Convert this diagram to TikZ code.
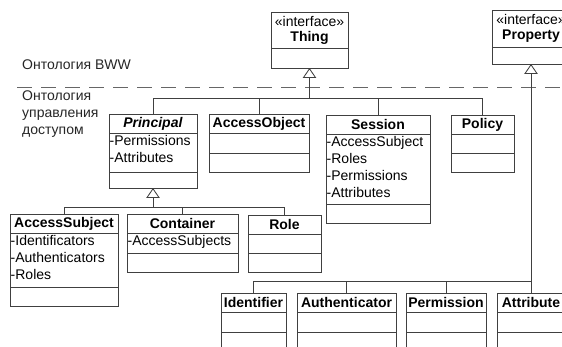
\documentclass[tikz,border=0pt]{standalone}
\usepackage{fontspec}
\setmainfont{Liberation Sans}
\usetikzlibrary{arrows.meta}

% UML class box: id, left, top, right, first separator, second separator, bottom, title, attributes
\newcommand{\umlclass}[9]{%
  \node[classbox, anchor=north west, minimum width={#4pt-#2pt}, minimum height={#7pt-#3pt}] (#1) at (#2,#3) {};
  \draw[classline] (#1.west |- 0,#5) -- (#1.east |- 0,#5);
  \draw[classline] (#1.west |- 0,#6) -- (#1.east |- 0,#6);
  \node[classtitle] (#1-t) at ({(#2+#4)/2},{(#3+#5)/2}) {#8};
  \if\relax\detokenize{#9}\relax\else
    \node[classattr, anchor=north west] (#1-a) at (#2,#5) {#9};
  \fi
}

\tikzset{
  ink/.style={draw=black!75, line width=0.85pt},
  classbox/.style={ink, fill=white, inner sep=0pt, outer sep=0pt},
  classline/.style={ink},
  classtitle/.style={inner sep=0pt, align=center, font=\fontsize{14}{15}\selectfont\bfseries},
  classattr/.style={inner xsep=0.5pt, inner ysep=2.5pt, align=left, font=\fontsize{14}{17}\selectfont},
  wire/.style={ink},
  gen/.style={ink, -{Triangle[open, width=13.5pt, length=10pt]}},
  layerlabel/.style={inner sep=0pt, align=left, font=\fontsize{14}{17}\selectfont, text=black!85},
  layerline/.style={draw=black!60, line width=0.8pt, dash pattern=on 15pt off 9pt}
}

\begin{document}
\begin{tikzpicture}[x=1pt, y=-1pt]
  \clip (0,0) rectangle (562,347);
  \fill[white] (0,0) rectangle (562,347);

  % layer labels and the boundary between ontologies
  \node[layerlabel, anchor=west] (bww) at (22,65) {Онтология BWW};
  \node[layerlabel, anchor=north west] (acl) at (22,91) {Онтология\\управления\\доступом};
  \coordinate (dashL) at (17,87);
  \coordinate (dashR) at (562,87);
  \draw[layerline] (dashL) -- (dashR);

  % top-level interfaces
  \umlclass{thing}{271}{12}{348}{48}{48}{68}{{\mdseries «interface»}\\Thing}{}
  \umlclass{property}{492}{10}{570}{47}{47}{64}{{\mdseries «interface»}\\Property}{}

  % access control classes
  \umlclass{principal}{109}{114}{197}{133}{172}{188}{\textit{Principal}}{-Permissions\\-Attributes}
  \umlclass{accessobject}{209}{114}{309}{133}{153}{172}{AccessObject}{}
  \umlclass{session}{326}{115}{430}{134}{204}{223}{Session}{-AccessSubject\\-Roles\\-Permissions\\-Attributes}
  \umlclass{policy}{451}{115}{514}{134}{153}{172}{Policy}{}

  \umlclass{accesssubject}{10}{214}{118}{233}{287}{306}{AccessSubject}{-Identificators\\-Authenticators\\-Roles}
  \umlclass{container}{127}{214}{238}{233}{253}{272}{Container}{-AccessSubjects}
  \umlclass{role}{248}{215}{321}{234}{253}{272}{Role}{}

  \umlclass{identifier}{221}{293}{286}{312}{332}{360}{Identifier}{}
  \umlclass{authenticator}{297}{293}{396}{312}{332}{360}{Authenticator}{}
  \umlclass{permission}{406}{293}{486}{312}{332}{360}{Permission}{}
  \umlclass{attribute}{497}{293}{565}{312}{332}{360}{Attribute}{}

  % generalisation towards Thing
  \coordinate (busA) at (309,98);
  \draw[wire] (principal.north) |- (policy.north |- busA) -- (policy.north);
  \draw[wire] (accessobject.north) -- (accessobject.north |- busA);
  \draw[wire] (session.north) -- (session.north |- busA);
  \draw[gen] (thing.south |- busA) -- (thing.south);

  % generalisation towards Principal
  \coordinate (busB) at (153,207);
  \draw[wire] (accesssubject.north) |- (role.north |- busB) -- (role.north);
  \draw[wire] (container.north) -- (container.north |- busB);
  \draw[gen] (principal.south |- busB) -- (principal.south);

  % generalisation towards Property
  \coordinate (busC) at (531,281);
  \draw[wire] (identifier.north) |- (attribute.north |- busC);
  \draw[wire] (authenticator.north) -- (authenticator.north |- busC);
  \draw[wire] (permission.north) -- (permission.north |- busC);
  \draw[gen] (attribute.north) -- (property.south);
\end{tikzpicture}
\end{document}
